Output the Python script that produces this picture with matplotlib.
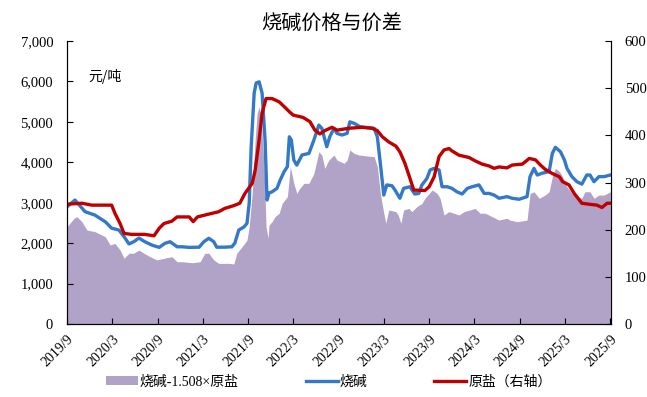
"""Caustic soda price vs. raw salt, with the soda-salt spread as a filled area."""
import matplotlib
matplotlib.use("Agg")
import matplotlib.pyplot as plt
from matplotlib.ticker import FuncFormatter, MultipleLocator
import pandas as pd

CJK = "Noto Sans CJK SC"
SERIF = "Liberation Serif"

# 烧碱 (left axis, 元/吨)
SODA_DATES = [
    "2019-09-01", "2019-10-03", "2019-11-13", "2019-12-22", "2020-02-02", "2020-02-28",
    "2020-03-28", "2020-04-18", "2020-05-08", "2020-05-27", "2020-06-17", "2020-07-11",
    "2020-08-09", "2020-09-07", "2020-09-30", "2020-10-21", "2020-11-18", "2020-12-08",
    "2021-01-06", "2021-02-15", "2021-03-06", "2021-03-26", "2021-04-15", "2021-04-27",
    "2021-05-29", "2021-06-27", "2021-07-09", "2021-07-25", "2021-08-15", "2021-08-27",
    "2021-09-05", "2021-09-13", "2021-09-25", "2021-10-03", "2021-10-15", "2021-10-27",
    "2021-11-08", "2021-11-16", "2021-11-24", "2021-12-06", "2021-12-26", "2022-01-08",
    "2022-01-24", "2022-02-06", "2022-02-14", "2022-02-22", "2022-03-04", "2022-03-16",
    "2022-04-06", "2022-05-04", "2022-05-24", "2022-06-13", "2022-06-25", "2022-07-15",
    "2022-07-27", "2022-08-13", "2022-08-25", "2022-09-14", "2022-10-05", "2022-10-16",
    "2022-11-02", "2022-11-26", "2022-12-24", "2023-01-22", "2023-02-04", "2023-02-16",
    "2023-03-02", "2023-03-14", "2023-04-04", "2023-04-16", "2023-05-06", "2023-05-21",
    "2023-06-15", "2023-07-05", "2023-07-21", "2023-08-03", "2023-08-23", "2023-09-05",
    "2023-09-21", "2023-10-11", "2023-10-23", "2023-11-13", "2023-12-02", "2023-12-22",
    "2024-01-12", "2024-02-02", "2024-02-21", "2024-03-20", "2024-04-10", "2024-04-30",
    "2024-05-20", "2024-06-09", "2024-07-11", "2024-08-01", "2024-08-29", "2024-09-30",
    "2024-10-12", "2024-10-28", "2024-11-10", "2024-11-30", "2024-12-28", "2025-01-10",
    "2025-01-22", "2025-02-12", "2025-02-28", "2025-03-10", "2025-03-30", "2025-04-19",
    "2025-05-09", "2025-05-29", "2025-06-11", "2025-06-27", "2025-07-17", "2025-08-07",
    "2025-09-01",
]
SODA_PRICE = [
    2900, 3066, 2777, 2695, 2530, 2370,
    2325, 2160, 1980, 2035, 2125, 2035,
    1950, 1895, 1995, 2035, 1910, 1910,
    1895, 1900, 2035, 2120, 2035, 1900,
    1900, 1910, 2000, 2325, 2400, 2490,
    2990, 4385, 5710, 5960, 5990, 5710,
    4550, 3066, 3240, 3270, 3355, 3560,
    3770, 3890, 4630, 4550, 4055, 3930,
    4180, 4220, 4550, 4920, 4840, 4385,
    4630, 4840, 4715, 4675, 4715, 5000,
    4965, 4880, 4860, 4840, 4630, 3975,
    3190, 3440, 3420, 3315, 3110, 3355,
    3395, 3215, 3230, 3440, 3600, 3810,
    3850, 3810, 3395, 3395, 3355, 3270,
    3215, 3355, 3395, 3440, 3230, 3230,
    3190, 3110, 3150, 3110, 3085, 3150,
    3645, 3850, 3685, 3730, 3770, 4220,
    4370, 4260, 4055, 3850, 3645, 3520,
    3460, 3685, 3685, 3520, 3645, 3645,
    3685,
]

# 原盐 (right axis, 元/吨)
SALT_DATES = [
    "2019-09-01", "2019-10-31", "2019-12-10", "2020-02-28", "2020-03-12", "2020-04-02",
    "2020-04-18", "2020-05-19", "2020-07-11", "2020-08-17", "2020-09-07", "2020-09-26",
    "2020-10-28", "2020-11-18", "2020-12-08", "2021-01-06", "2021-01-22", "2021-02-08",
    "2021-03-26", "2021-05-05", "2021-05-29", "2021-07-05", "2021-07-29", "2021-08-19",
    "2021-09-17", "2021-09-29", "2021-10-15", "2021-10-27", "2021-11-12", "2021-12-06",
    "2022-01-04", "2022-01-24", "2022-02-14", "2022-03-01", "2022-04-10", "2022-05-08",
    "2022-05-28", "2022-06-17", "2022-07-07", "2022-08-05", "2022-08-25", "2022-10-12",
    "2022-12-04", "2023-01-14", "2023-02-04", "2023-02-24", "2023-03-22", "2023-04-20",
    "2023-05-06", "2023-05-26", "2023-06-11", "2023-07-01", "2023-08-15", "2023-09-01",
    "2023-09-21", "2023-10-11", "2023-10-31", "2023-11-20", "2023-12-02", "2023-12-30",
    "2024-02-09", "2024-03-04", "2024-04-02", "2024-04-30", "2024-05-20", "2024-06-09",
    "2024-07-11", "2024-08-01", "2024-09-11", "2024-10-09", "2024-11-03", "2024-11-23",
    "2024-12-12", "2025-01-10", "2025-02-08", "2025-02-20", "2025-03-18", "2025-04-08",
    "2025-05-09", "2025-06-07", "2025-07-09", "2025-07-29", "2025-08-19", "2025-09-01",
]
SALT_PRICE = [
    254, 256, 252, 252, 235, 213,
    192, 190, 190, 187, 203, 213,
    218, 227, 227, 227, 217, 227,
    233, 238, 245, 251, 256, 277,
    298, 326, 390, 447, 478, 478,
    471, 461, 450, 443, 438, 429,
    411, 403, 410, 417, 411, 415,
    417, 415, 410, 397, 386, 377,
    365, 341, 316, 284, 283, 291,
    312, 355, 369, 372, 367, 358,
    353, 346, 339, 335, 330, 333,
    331, 337, 339, 351, 348, 337,
    328, 319, 312, 302, 295, 277,
    256, 254, 252, 247, 256, 256,
]

# 烧碱-1.508×原盐 (left axis, 元/吨)
SPREAD_DATES = [
    "2019-09-01", "2019-09-29", "2019-10-11", "2019-10-31", "2019-11-20", "2019-12-22",
    "2020-02-02", "2020-02-22", "2020-03-12", "2020-04-02", "2020-04-18", "2020-05-08",
    "2020-05-27", "2020-06-17", "2020-07-07", "2020-08-01", "2020-08-29", "2020-09-26",
    "2020-10-28", "2020-11-18", "2020-12-08", "2021-01-18", "2021-02-19", "2021-03-10",
    "2021-03-26", "2021-04-15", "2021-05-05", "2021-06-15", "2021-07-05", "2021-07-17",
    "2021-08-07", "2021-08-27", "2021-09-05", "2021-09-17", "2021-09-29", "2021-10-07",
    "2021-10-15", "2021-10-23", "2021-11-04", "2021-11-12", "2021-11-20", "2021-11-24",
    "2021-12-06", "2021-12-18", "2022-01-04", "2022-01-16", "2022-02-06", "2022-02-18",
    "2022-03-04", "2022-03-16", "2022-03-28", "2022-04-14", "2022-05-04", "2022-05-24",
    "2022-06-13", "2022-06-25", "2022-07-07", "2022-07-23", "2022-08-13", "2022-08-25",
    "2022-09-23", "2022-10-05", "2022-10-16", "2022-11-02", "2022-11-22", "2022-12-24",
    "2023-01-22", "2023-02-04", "2023-02-16", "2023-03-02", "2023-03-10", "2023-03-22",
    "2023-04-20", "2023-04-30", "2023-05-10", "2023-05-21", "2023-06-11", "2023-06-23",
    "2023-07-13", "2023-08-03", "2023-08-15", "2023-09-01", "2023-09-13", "2023-10-03",
    "2023-10-15", "2023-10-31", "2023-11-20", "2023-12-10", "2023-12-30", "2024-01-20",
    "2024-02-13", "2024-03-04", "2024-03-24", "2024-04-14", "2024-05-12", "2024-06-09",
    "2024-07-11", "2024-07-23", "2024-08-21", "2024-09-30", "2024-10-12", "2024-10-28",
    "2024-11-18", "2024-12-12", "2024-12-28", "2025-01-10", "2025-01-22", "2025-02-08",
    "2025-02-20", "2025-03-10", "2025-03-30", "2025-04-19", "2025-05-09", "2025-05-21",
    "2025-06-11", "2025-06-27", "2025-07-17", "2025-08-07", "2025-09-01",
]
SPREAD = [
    2405, 2615, 2655, 2530, 2325, 2285,
    2160, 1955, 1995, 1830, 1625, 1750,
    1750, 1830, 1750, 1665, 1585, 1625,
    1665, 1540, 1540, 1515, 1540, 1750,
    1750, 1585, 1500, 1500, 1485, 1750,
    1910, 2075, 2405, 3230, 4550, 5210,
    5375, 5125, 3890, 2405, 2120, 2450,
    2530, 2655, 2740, 2985, 3150, 3890,
    3480, 3230, 3355, 3480, 3480, 3725,
    4260, 4180, 3850, 4055, 4180, 4055,
    3975, 4055, 4305, 4220, 4180, 4155,
    4140, 3890, 3230, 2740, 2490, 2820,
    2780, 2680, 2490, 2820, 2860, 2780,
    2900, 2985, 3110, 3230, 3315, 3230,
    3110, 2695, 2780, 2740, 2695, 2780,
    2820, 2860, 2740, 2740, 2655, 2570,
    2615, 2570, 2530, 2570, 3230, 3270,
    3110, 3190, 3270, 3645, 3850, 3770,
    3645, 3395, 3230, 3150, 3110, 3270,
    3270, 3110, 3190, 3190, 3270,
]

X_TICKS = pd.date_range("2019-09-01", "2025-09-01", freq="6MS")
X_START = pd.Timestamp("2019-09-01")
X_END = pd.Timestamp("2025-09-03")

SODA_COLOR = "#3478C8"
SALT_COLOR = "#C00000"
SPREAD_COLOR = "#B1A2C7"


def main() -> None:
    fig = plt.figure(figsize=(6.47, 3.97), dpi=100)
    ax = fig.add_axes([0.1036, 0.1839, 0.8405, 0.7128])
    ax2 = ax.twinx()

    spread_x = pd.to_datetime(SPREAD_DATES)
    soda_x = pd.to_datetime(SODA_DATES)
    salt_x = pd.to_datetime(SALT_DATES)

    ax.fill_between(spread_x, 0, SPREAD, color=SPREAD_COLOR, linewidth=0,
                    label="烧碱-1.508×原盐")
    ax.plot(soda_x, SODA_PRICE, color=SODA_COLOR, linewidth=2.4, label="烧碱")
    ax2.plot(salt_x, SALT_PRICE, color=SALT_COLOR, linewidth=2.4, label="原盐（右轴）")

    ax.set_xlim(X_START, X_END)
    ax.set_ylim(0, 7000)
    ax2.set_ylim(0, 600)
    ax.yaxis.set_major_locator(MultipleLocator(1000))
    ax.yaxis.set_major_formatter(FuncFormatter(lambda v, _: f"{int(v):,}"))
    ax2.yaxis.set_major_locator(MultipleLocator(100))

    ax.set_xticks(X_TICKS)
    ax.set_xticklabels([f"{d.year}/{d.month}" for d in X_TICKS], rotation=45, ha="right",
                       rotation_mode="anchor", family=SERIF, fontsize=10)
    for a in (ax, ax2):
        a.spines["top"].set_visible(False)
        a.tick_params(direction="in", length=4, width=0.8)
        for lbl in a.get_yticklabels():
            lbl.set_family(SERIF)
            lbl.set_fontsize(10.5)
    ax.tick_params(axis="x", pad=6)
    ax.tick_params(axis="y", pad=10)
    ax2.tick_params(axis="y", pad=10)

    ax.text(0.04, 0.86, "元/吨", transform=ax.transAxes, family=CJK, fontsize=10)
    fig.suptitle("烧碱价格与价差", family=CJK, fontsize=14.5, x=0.512, y=0.965)

    h1, l1 = ax.get_legend_handles_labels()
    h2, l2 = ax2.get_legend_handles_labels()
    fig.legend(h1 + h2, l1 + l2, loc="lower center", bbox_to_anchor=(0.508, -0.01), ncol=3,
               frameon=False, handlelength=2.3, handletextpad=0.15, columnspacing=4.8,
               prop={"family": [SERIF, CJK], "size": 10})

    fig.savefig("out.png", dpi=100)
    plt.close(fig)


if __name__ == "__main__":
    main()
